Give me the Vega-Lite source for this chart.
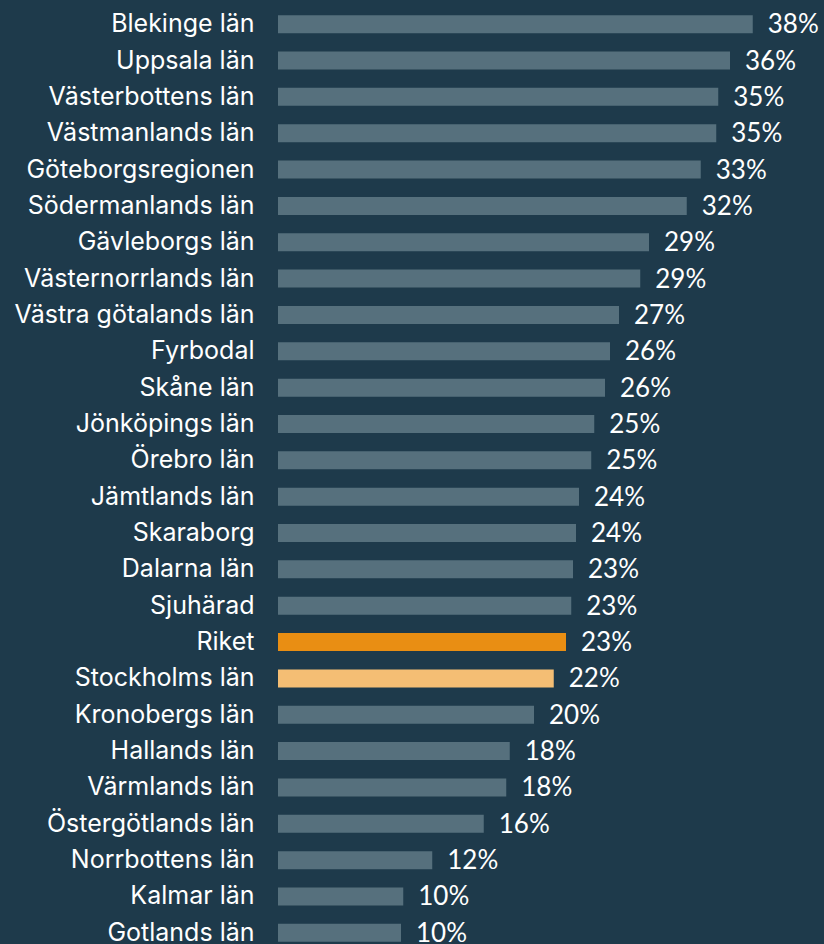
{
  "$schema": "https://vega.github.io/schema/vega-lite/v6.json",
  "width": 546,
  "height": 945,
  "autosize": "none",
  "padding": {"left": 278, "top": 6, "right": 0, "bottom": 0},
  "background": "#1e3a4b",
  "config": {"view": {"stroke": null}},
  "data": {
    "values": [
      {"region": "Blekinge län", "value": 37.98, "label": "38%", "group": "other"},
      {"region": "Uppsala län", "value": 36.16, "label": "36%", "group": "other"},
      {"region": "Västerbottens län", "value": 35.22, "label": "35%", "group": "other"},
      {"region": "Västmanlands län", "value": 35.06, "label": "35%", "group": "other"},
      {"region": "Göteborgsregionen", "value": 33.82, "label": "33%", "group": "other"},
      {"region": "Södermanlands län", "value": 32.7, "label": "32%", "group": "other"},
      {"region": "Gävleborgs län", "value": 29.68, "label": "29%", "group": "other"},
      {"region": "Västernorrlands län", "value": 28.98, "label": "29%", "group": "other"},
      {"region": "Västra götalands län", "value": 27.28, "label": "27%", "group": "other"},
      {"region": "Fyrbodal", "value": 26.56, "label": "26%", "group": "other"},
      {"region": "Skåne län", "value": 26.16, "label": "26%", "group": "other"},
      {"region": "Jönköpings län", "value": 25.3, "label": "25%", "group": "other"},
      {"region": "Örebro län", "value": 25.06, "label": "25%", "group": "other"},
      {"region": "Jämtlands län", "value": 24.08, "label": "24%", "group": "other"},
      {"region": "Skaraborg", "value": 23.84, "label": "24%", "group": "other"},
      {"region": "Dalarna län", "value": 23.6, "label": "23%", "group": "other"},
      {"region": "Sjuhärad", "value": 23.46, "label": "23%", "group": "other"},
      {"region": "Riket", "value": 23.04, "label": "23%", "group": "riket"},
      {"region": "Stockholms län", "value": 22.06, "label": "22%", "group": "sthlm"},
      {"region": "Kronobergs län", "value": 20.48, "label": "20%", "group": "other"},
      {"region": "Hallands län", "value": 18.54, "label": "18%", "group": "other"},
      {"region": "Värmlands län", "value": 18.26, "label": "18%", "group": "other"},
      {"region": "Östergötlands län", "value": 16.46, "label": "16%", "group": "other"},
      {"region": "Norrbottens län", "value": 12.34, "label": "12%", "group": "other"},
      {"region": "Kalmar län", "value": 10.02, "label": "10%", "group": "other"},
      {"region": "Gotlands län", "value": 9.84, "label": "10%", "group": "other"}
    ]
  },
  "encoding": {
    "y": {
      "field": "region",
      "type": "nominal",
      "sort": null,
      "scale": {"paddingInner": 0.505, "paddingOuter": 0.2525},
      "axis": {
        "title": null,
        "domain": false,
        "ticks": false,
        "labelPadding": 24,
        "labelFont": "Inter",
        "labelFontSize": 25,
        "labelColor": "#ffffff",
        "labelLimit": 300
      }
    },
    "x": {
      "field": "value",
      "type": "quantitative",
      "scale": {"domain": [0, 43.68], "nice": false},
      "axis": null
    }
  },
  "layer": [
    {
      "mark": {"type": "bar"},
      "encoding": {
        "color": {
          "field": "group",
          "type": "nominal",
          "scale": {"domain": ["other", "riket", "sthlm"], "range": ["#56707d", "#e98e13", "#f4be74"]},
          "legend": null
        }
      }
    },
    {
      "mark": {"type": "text", "align": "left", "baseline": "middle", "dx": 15, "dy": 1, "font": "Lato", "fontSize": 26, "color": "#ffffff"},
      "encoding": {"text": {"field": "label"}}
    }
  ]
}
